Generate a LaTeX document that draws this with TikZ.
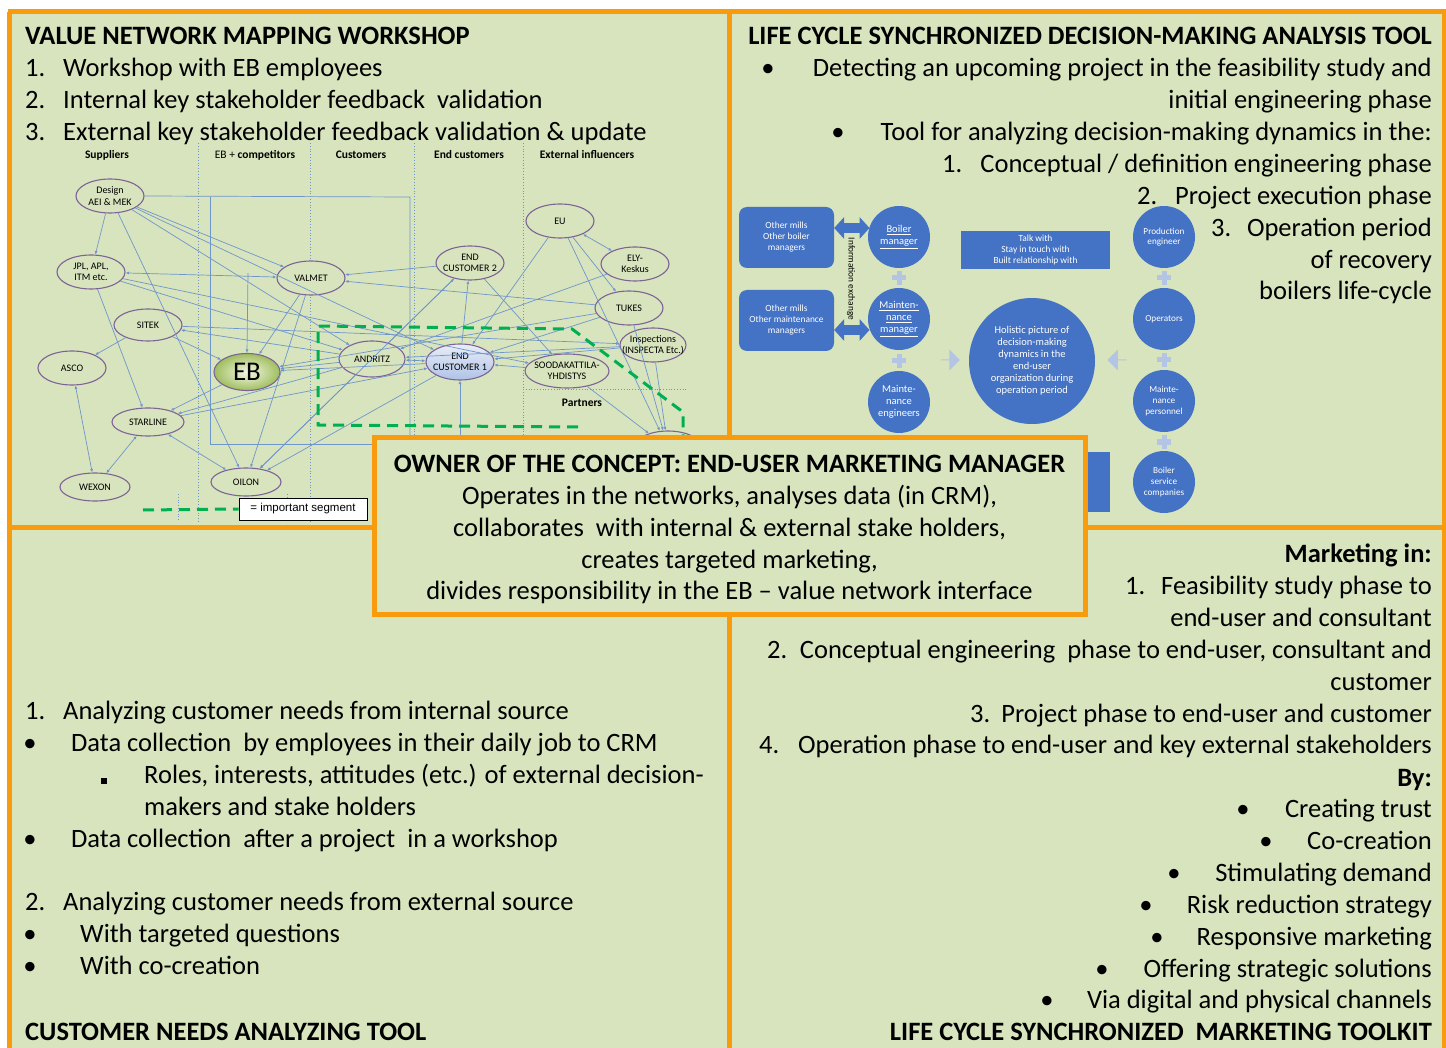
\documentclass[tikz,border=0pt]{standalone}
\usepackage{fontspec}
\setmainfont{Carlito}
\newfontfamily\legendfont{Liberation Sans}
\usetikzlibrary{arrows.meta,shapes.geometric,shapes.arrows,calc}

\definecolor{bggreen}{HTML}{D7E4BD}
\definecolor{framecol}{HTML}{F89C0E}
\definecolor{shapeblue}{HTML}{4472C4}
\definecolor{paleblue}{HTML}{B3C4E4}
\definecolor{netblue}{HTML}{6F96CB}
\definecolor{ringpurple}{HTML}{7E6396}
\definecolor{segment}{HTML}{00B050}
\definecolor{ebinner}{HTML}{F4F8E6}
\definecolor{ebouter}{HTML}{9FBE5E}
\definecolor{ectop}{HTML}{E9EEF8}
\definecolor{ecbottom}{HTML}{AFC2E6}

\tikzset{
  body/.style={font=\fontsize{26.5}{32}\selectfont, inner sep=0pt, text=black, yshift=-1.5pt},
  head/.style={body, font=\fontsize{26.5}{32}\selectfont\bfseries},
  colhead/.style={font=\fontsize{11.5}{13}\selectfont\bfseries, inner sep=0pt},
  entlabel/.style={align=center, inner sep=0pt, font=\fontsize{10}{11.5}\selectfont},
  ent/.style={ellipse, draw=ringpurple, line width=1.1pt, fill=bggreen, inner sep=0pt,
    minimum width=68pt, minimum height=34pt, label={[entlabel]center:{#1}}},
  con/.style={draw=netblue, line width=0.7pt, -{Latex[length=3.5pt,width=3pt]}},
  dcon/.style={draw=netblue, line width=0.7pt, {Latex[length=3.5pt,width=3pt]}-{Latex[length=3.5pt,width=3pt]}},
  sep/.style={draw=netblue, line width=0.8pt, dotted},
  pcirc/.style={circle, fill=shapeblue, text=white, minimum size=62pt, inner sep=0pt,
    align=center, font=\fontsize{9.2}{10.8}\selectfont},
  pbox/.style={fill=shapeblue, text=white, inner sep=0pt, align=center,
    font=\fontsize{9.4}{11}\selectfont},
  bigarrow/.style={draw=shapeblue, line width=10pt,
    {Triangle[length=10pt,width=22pt,line width=0pt]}-{Triangle[length=10pt,width=22pt,line width=0pt]}},
  framerule/.style={draw=framecol, line width=5pt},
}

\begin{document}
\begin{tikzpicture}[x=1pt,y=-1pt]
\useasboundingbox (0,0) rectangle (1446,1048);
\fill[white] (0,0) rectangle (1446,1048);
\fill[bggreen] (10,12) rectangle (1446,1048);

% ---------------- value network map ----------------
\foreach \xx in {198,310,414,523} \draw[sep] (\xx,143) -- (\xx,522);
\foreach \xx in {178,287} \draw[sep] (\xx,494) -- (\xx,522);
\draw[sep] (523,389) -- (688,389);

\node[colhead] (hsup) at (107,155) {Suppliers};
\node[colhead] (hcomp) at (255,155) {\mdseries EB +\ \bfseries competitors};
\node[colhead] (hcust) at (361,155) {Customers};
\node[colhead] (hend) at (469,155) {End customers};
\node[colhead] (hext) at (587,155) {External influencers};
\node[colhead] (hpart) at (582,403) {Partners};

\node[ent={Design\\AEI \& MEK}] (design) at (110,196) {};
\node[ent={JPL, APL,\\ITM etc.}] (jpl) at (91,272) {};
\node[ent=SITEK, minimum height=32pt] (sitek) at (148,325) {};
\node[ent=ASCO] (asco) at (72,368) {};
\node[ent=STARLINE, minimum width=72pt, minimum height=28pt] (starline) at (148,422) {};
\node[ent=WEXON, minimum width=70pt, minimum height=28pt] (wexon) at (95,487) {};
\node[ent=OILON, minimum width=70pt, minimum height=28pt] (oilon) at (246,482) {};
\node[ellipse, draw=ringpurple, line width=1.1pt, inner sep=0pt, minimum width=66pt, minimum height=37pt,
      inner color=ebinner, outer color=ebouter, font=\fontsize{27}{29}\selectfont] (eb) at (247,372) {EB};
\node[ent=VALMET] (valmet) at (311,278) {};
\node[ent=ANDRITZ, minimum width=66pt, minimum height=36pt] (andritz) at (372,359) {};
\node[ent={END\\CUSTOMER 1}, minimum width=68pt, minimum height=36pt, top color=ectop, bottom color=ecbottom] (ec1) at (460,362) {};
\node[ent={END\\CUSTOMER 2}] (ec2) at (470,263) {};
\node[ent=EU] (eu) at (560,221) {};
\node[ent={ELY-\\Keskus}] (ely) at (635,264) {};
\node[ent=TUKES] (tukes) at (629,308) {};
\node[ent={Inspections\\(INSPECTA Etc.)}, minimum width=66pt] (insp) at (653,345) {};
\node[ent={SOODAKATTILA-\\YHDISTYS}, minimum width=84pt] (sooda) at (567,371) {};
\node[ent={PÖYRY \&\\ }] (poyry) at (668,448) {};

% relations between actors
\draw[con] (design) -- (jpl);
\draw[con] (design) -- (valmet);
\draw[con] (design) -- (andritz);
\draw[con] (design) -- (oilon);
\draw[con] (design) -- (ec1);
\draw[con] (design.east) -- (410,197) -- (410,440);
\draw[con] (210,197) -- (210,444) -- (ec1.south |- 0,444) -- (ec1.south);
\draw[con] (jpl) -- (starline);
\draw[dcon] (jpl) -- (valmet);
\draw[con] (248,273) -- (eb.north);
\draw[con] (jpl) -- (andritz);
\draw[con] (jpl) -- (sooda);
\draw[con] (sitek) -- (asco);
\draw[con] (sitek) -- (eb);
\draw[con] (andritz) -- (sitek);
\draw[dcon] (asco) -- (wexon);
\draw[dcon] (starline) -- (wexon);
\draw[dcon] (starline) -- (oilon);
\draw[con] (eb) -- (starline);
\draw[con] (andritz) -- (starline);
\draw[con] (valmet) -- (eb);
\draw[con] (andritz) -- (eb);
\draw[con] (ec1) -- (eb);
\draw[con] (valmet) -- (oilon);
\draw[con] (andritz) -- (oilon);
\draw[con] (ec1) -- (oilon);
\draw[con] (ec2) -- (valmet);
\draw[con] (andritz) -- (ec2);
\draw[con] (ec1) -- (ec2);
\draw[con] (ec2) -- (oilon);
\draw[con] (ec2) -- (sooda);
\draw[dcon] (andritz) -- (ec1);
\draw[con] (sooda) -- (ec1);
\draw[con] (tukes) -- (ec1);
\draw[con] (insp) -- (ec1);
\draw[con] (insp) -- (andritz);
\draw[con] (tukes) -- (valmet);
\draw[con] (tukes) -- (eb);
\draw[con] (ely) -- (andritz);
\draw[dcon] (eu) -- (ely);
\draw[con] (eu) -- (tukes);
\draw[con] (eu) -- (ec1);
\draw[con] (eu) -- (poyry);
\draw[con] (tukes) -- (poyry);
\draw[con] (insp) -- (poyry);
\draw[con] (sooda) -- (poyry);
\draw[con] (starline) -- (ec1);
\draw[con] (sitek) -- (insp);

% important segment
\draw[segment, line width=3pt, dash pattern=on 11pt off 7pt]
  (578,427) -- (318,425) -- (318,326) -- (572,329) -- (683,412) -- (683,440);
\coordinate (legA) at (143,510);
\node[draw=black, fill=white, line width=0.8pt, minimum width=128pt, minimum height=22pt, inner sep=0pt,
      font=\legendfont\fontsize{11.5}{13}\selectfont] (legend) at (303,509) {= important segment};
\draw[segment, line width=3pt, dash pattern=on 11pt off 7pt] (legA) -- (legend.west);

% ---------------- decision-making analysis tool ----------------
\node[pbox, rounded corners=8pt, minimum width=95pt, minimum height=61pt] (obm) at (786.5,237.5) {Other mills\\Other boiler\\managers};
\node[pbox, rounded corners=8pt, minimum width=95pt, minimum height=61pt] (omm) at (786.5,320.5) {Other mills\\Other maintenance\\managers};
\node[pcirc, font=\fontsize{10.5}{12.5}\selectfont] (bman) at (899,237) {\underline{Boiler}\\\underline{manager}};
\node[pcirc, font=\fontsize{10.5}{12}\selectfont] (mman) at (899,319) {\underline{Mainten-}\\\underline{nance}\\\underline{manager}};
\node[pcirc, font=\fontsize{10.5}{12}\selectfont] (meng) at (899,402) {Mainte-\\nance\\engineers};
\node[pbox, minimum width=149pt, minimum height=38pt] (talk) at (1035.5,250) {Talk with\\Stay in touch with\\Built relationship with};
\node[pbox, minimum width=149pt, minimum height=60pt] (lowbox) at (1035.5,482) {};
\node[pcirc, minimum size=126pt, font=\fontsize{10.5}{12}\selectfont] (holistic) at (1032,361)
  {Holistic picture of\\decision-making\\dynamics in the\\end-user\\organization during\\operation period};
\node[pcirc] (prod) at (1164,237) {Production\\engineer};
\node[pcirc] (oper) at (1164,319) {Operators};
\node[pcirc] (mpers) at (1164,401) {Mainte-\\nance\\personnel};
\node[pcirc] (bserv) at (1164,482) {Boiler\\service\\companies};

\draw[bigarrow] (obm.east |- 0,228) -- ($(bman.center)+(-29.5,-9)$);
\draw[bigarrow] (omm.east |- 0,330) -- ($(mman.center)+(-29.5,11)$);
\node[rotate=-90, inner sep=0pt, font=\fontsize{9.3}{11}\selectfont] (infoex) at (851,279) {Information exchange};

\foreach \px/\py in {899/278, 899/361, 1164/278, 1164/360, 1164/442}{
  \fill[paleblue] (\px-7,\py-2.5) rectangle (\px+7,\py+2.5);
  \fill[paleblue] (\px-2.5,\py-7) rectangle (\px+2.5,\py+7);
}
\node[single arrow, fill=paleblue, minimum height=19pt, minimum width=21pt, inner sep=0pt,
      single arrow head extend=4pt] (arrin) at (950,360) {};
\node[single arrow, fill=paleblue, minimum height=19pt, minimum width=21pt, inner sep=0pt,
      single arrow head extend=4pt, shape border rotate=180] (arrback) at (1117,360) {};

% ---------------- quadrant frame ----------------
\draw[framerule] (7.5,12) -- (1446,12);
\draw[framerule] (9.5,12) -- (9.5,1048);
\draw[framerule] (1444.5,12) -- (1444.5,1048);
\draw[framerule] (729,12) -- (729,1048);
\draw[framerule] (9.5,527) -- (1446,527);

% ---------------- top left texts ----------------
\node[head, anchor=base west] (tlh) at (25,43) {VALUE NETWORK MAPPING WORKSHOP};
\node[body, anchor=base west] (tln1) at (25,75) {1.};
\node[body, anchor=base west] (tlt1) at (63,75) {Workshop with EB employees};
\node[body, anchor=base west] (tln2) at (25,107) {2.};
\node[body, anchor=base west] (tlt2) at (63,107) {Internal key stakeholder feedback\ \ validation};
\node[body, anchor=base west] (tln3) at (25,139) {3.};
\node[body, anchor=base west] (tlt3) at (63,139) {External key stakeholder feedback validation \& update};

% ---------------- top right texts ----------------
\node[head, anchor=base east] (trh) at (1432,43) {LIFE CYCLE SYNCHRONIZED DECISION-MAKING ANALYSIS TOOL};
\node[body, anchor=base] (trb1) at (768,75) {•};
\node[body, anchor=base east] (trt1) at (1432,75) {Detecting an upcoming project in the feasibility study and};
\node[body, anchor=base east] (trt2) at (1432,107) {initial engineering phase};
\node[body, anchor=base] (trb2) at (838,139) {•};
\node[body, anchor=base east] (trt3) at (1432,139) {Tool for analyzing decision-making dynamics in the:};
\node[body, anchor=base west] (trn1) at (942,171) {1.};
\node[body, anchor=base east] (trt4) at (1432,171) {Conceptual / definition engineering phase};
\node[body, anchor=base west] (trn2) at (1137,203) {2.};
\node[body, anchor=base east] (trt5) at (1432,203) {Project execution phase};
\node[body, anchor=base west] (trn3) at (1211,235) {3.};
\node[body, anchor=base east] (trt6) at (1432,235) {Operation period};
\node[body, anchor=base east] (trt7) at (1432,267) {of recovery};
\node[body, anchor=base east] (trt8) at (1432,298) {boilers life-cycle};

% ---------------- bottom left texts ----------------
\node[body, anchor=base west] (bln1) at (25,718) {1.};
\node[body, anchor=base west] (blt1) at (63,718) {Analyzing customer needs from internal source};
\node[body, anchor=base] (blb1) at (30,750) {•};
\node[body, anchor=base west] (blt2) at (71,750) {Data collection\ \ by employees in their daily job to CRM};
\node[body, anchor=base] (blb2) at (104,782) {\rule{6pt}{6pt}};
\node[body, anchor=base west] (blt3) at (144,782) {Roles, interests, attitudes (etc.) of external decision-};
\node[body, anchor=base west] (blt4) at (144,814) {makers and stake holders};
\node[body, anchor=base] (blb3) at (30,846) {•};
\node[body, anchor=base west] (blt5) at (71,846) {Data collection\ \ after a project\ \ in a workshop};
\node[body, anchor=base west] (bln2) at (25,909) {2.};
\node[body, anchor=base west] (blt6) at (63,909) {Analyzing customer needs from external source};
\node[body, anchor=base] (blb4) at (30,941) {•};
\node[body, anchor=base west] (blt7) at (80,941) {With targeted questions};
\node[body, anchor=base] (blb5) at (30,973) {•};
\node[body, anchor=base west] (blt8) at (80,973) {With co-creation};
\node[head, anchor=base west] (blh) at (25,1039) {CUSTOMER NEEDS ANALYZING TOOL};

% ---------------- bottom right texts ----------------
\node[head, anchor=base east] (brh1) at (1432,561) {Marketing in:};
\node[body, anchor=base west] (brn1) at (1125,593) {1.};
\node[body, anchor=base east] (brt1) at (1432,593) {Feasibility study phase to};
\node[body, anchor=base east] (brt2) at (1432,625) {end-user and consultant};
\node[body, anchor=base west] (brn2) at (767,657) {2.};
\node[body, anchor=base east] (brt3) at (1432,657) {Conceptual engineering\ \ phase to end-user, consultant and};
\node[body, anchor=base east] (brt4) at (1432,689) {customer};
\node[body, anchor=base west] (brn3) at (970,721) {3.};
\node[body, anchor=base east] (brt5) at (1432,721) {Project phase to end-user and customer};
\node[body, anchor=base west] (brn4) at (759,752) {4.};
\node[body, anchor=base east] (brt6) at (1432,752) {Operation phase to end-user and key external stakeholders};
\node[head, anchor=base east] (brh2) at (1432,785) {By:};
\node[body, anchor=base] (brb1) at (1243,816) {•};
\node[body, anchor=base east] (brt7) at (1432,816) {Creating trust};
\node[body, anchor=base] (brb2) at (1266,848) {•};
\node[body, anchor=base east] (brt8) at (1432,848) {Co-creation};
\node[body, anchor=base] (brb3) at (1174,880) {•};
\node[body, anchor=base east] (brt9) at (1432,880) {Stimulating demand};
\node[body, anchor=base] (brb4) at (1146,912) {•};
\node[body, anchor=base east] (brt10) at (1432,912) {Risk reduction strategy};
\node[body, anchor=base] (brb5) at (1157,944) {•};
\node[body, anchor=base east] (brt11) at (1432,944) {Responsive marketing};
\node[body, anchor=base] (brb6) at (1102,976) {•};
\node[body, anchor=base east] (brt12) at (1432,976) {Offering strategic solutions};
\node[body, anchor=base] (brb7) at (1047,1007) {•};
\node[body, anchor=base east] (brt13) at (1432,1007) {Via digital and physical channels};
\node[head, anchor=base east] (brh3) at (1432,1039) {LIFE CYCLE SYNCHRONIZED\ \ MARKETING TOOLKIT};

% ---------------- central concept owner box ----------------
\draw[framerule, fill=bggreen] (374,438) rectangle (1085,614);
\node[head, anchor=base] (ch) at (729.5,471) {OWNER OF THE CONCEPT: END-USER MARKETING MANAGER};
\node[body, anchor=base] (c1) at (729.5,503) {Operates in the networks, analyses data (in CRM),};
\node[body, anchor=base] (c2) at (729.5,535) {collaborates\ \ with internal \& external stake holders,};
\node[body, anchor=base] (c3) at (729.5,567) {creates targeted marketing,};
\node[body, anchor=base] (c4) at (729.5,598) {divides responsibility in the EB -- value network interface};
\end{tikzpicture}
\end{document}
